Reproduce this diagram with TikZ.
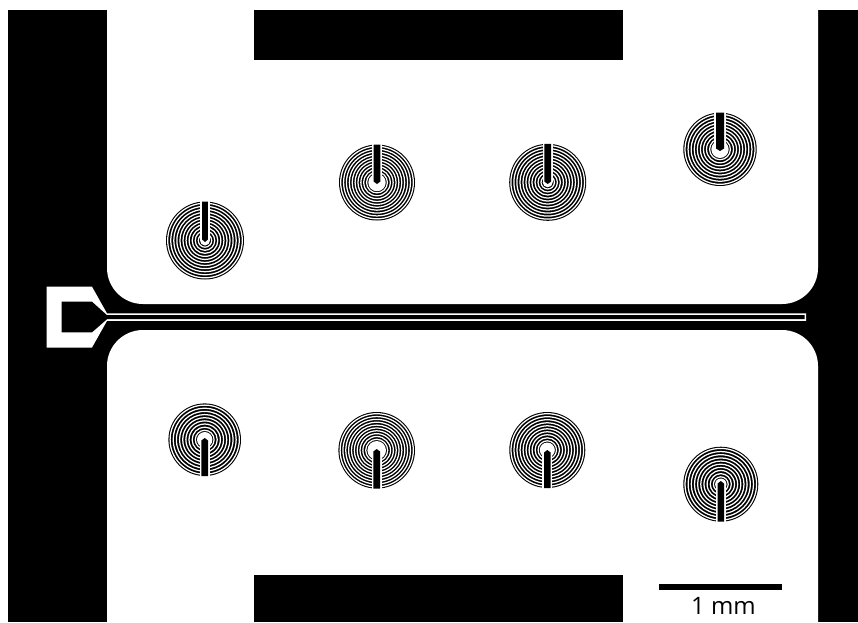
\documentclass[tikz,border=0pt]{standalone}
\usepackage{fontspec}
\setmainfont{Open Sans}
\tikzset{
  solid black/.style={fill=black,draw=none},
  solid white/.style={fill=white,draw=none},
  coil gap/.style={draw=white,line width=1.25pt}
}
% #1 cx, #2 cy, #3 outer radius, #4 hole radius, #5 side (-1 top, 1 bottom), #6 stripe half width, #7 tip y
\newcommand{\coil}[7]{%
  \fill[solid black] (#1,#2) circle (#3);
  \pgfmathtruncatemacro{\nrings}{round((#3-#4-3.4)/3.0)}
  \pgfmathsetmacro{\ringstep}{(#3-#4-3.4)/\nrings}
  \foreach \k in {0,...,\nrings} {
    \pgfmathsetmacro{\r}{#3-1.7-\k*\ringstep}
    \draw[coil gap] (#1,#2) circle (\r);
  }
  \fill[solid white] (#1,#2) circle (#4);
  \fill[solid white] ({#1-#6-1.7},{#2+#5*(#3+0.5)}) rectangle ({#1+#6+1.7},#2);
  \fill[solid black] ({#1-#6},{#2+#5*#3}) -- ({#1-#6},{#7+#5*2.5}) -- (#1,#7) -- ({#1+#6},{#7+#5*2.5}) -- ({#1+#6},{#2+#5*#3}) -- cycle;
}
\begin{document}
\begin{tikzpicture}[x=1pt,y=-1pt]
\useasboundingbox (0,0) rectangle (858,622);
\fill[solid white] (0,0) rectangle (858,622);
\fill[solid black] (8,10) rectangle (858,622);
\fill[solid white,rounded corners=36pt] (107,-60) -- (107,304) -- (818,304) -- (818,-60) -- cycle;
\fill[solid white,rounded corners=36pt] (107,682) -- (107,330) -- (818,330) -- (818,682) -- cycle;
\fill[solid white] (107,0) rectangle (818,10);
\fill[solid black] (254,10) rectangle (623,60);
\fill[solid black] (254,575) rectangle (623,622);
% feed line and pad
\fill[solid white] (46.7,286.7) -- (92,286.7) -- (107,313.4) -- (806,313.4) -- (806,320.9) -- (107,320.9) -- (92,347.5) -- (46.7,347.5) -- cycle;
\fill[solid black] (61.7,301.7) -- (92,301.7) -- (107,315.2) -- (804.6,315.2) -- (804.6,319.2) -- (107,319.2) -- (92,332.3) -- (61.7,332.3) -- cycle;
% coils
\coil{205}{240.5}{39}{5}{-1}{2.9}{242}
\coil{377}{182.5}{38}{8.7}{-1}{3.4}{184}
\coil{547.7}{182.3}{38.5}{5}{-1}{3.4}{184}
\coil{720}{149.3}{36.7}{8.7}{-1}{4}{151}
\coil{204.7}{439.7}{36.3}{7.7}{1}{3.4}{438}
\coil{376.7}{450.3}{38.3}{9.3}{1}{3.4}{449}
\coil{547.3}{450}{38}{7.5}{1}{3.3}{450}
\coil{720.8}{484.2}{37.5}{5.7}{1}{3.2}{481}
% scale bar
\coordinate (barL) at (659,587);
\coordinate (barR) at (782,587);
\draw[line width=6.5pt] (barL) -- (barR);
\node[font=\fontsize{24}{24}\selectfont,inner sep=0pt] (scale) at (723.5,606) {1 mm};
\end{tikzpicture}
\end{document}
